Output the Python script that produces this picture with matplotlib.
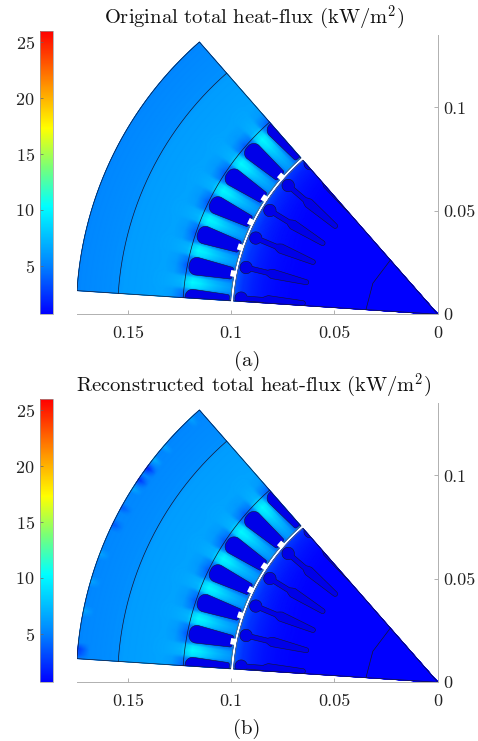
import numpy as np
import matplotlib
matplotlib.use('Agg')
import matplotlib.pyplot as plt
from matplotlib.colors import LinearSegmentedColormap, Normalize
from matplotlib.patches import Polygon
from matplotlib.cm import ScalarMappable

plt.rcParams['font.family'] = ['cmr10', 'DejaVu Serif']
plt.rcParams['mathtext.fontset'] = 'cm'
plt.rcParams['axes.formatter.use_mathtext'] = True
plt.rcParams['axes.unicode_minus'] = False

W, H = 478, 741

titles = ['Original total heat-flux (kW/m$^{2}$)', 'Reconstructed total heat-flux (kW/m$^{2}$)']
captions = ['(a)', '(b)']
x_ticks = [0.15, 0.1, 0.05, 0]
x_tick_labels = ['0.15', '0.1', '0.05', '0']
y_ticks = [0, 0.05, 0.1]
y_tick_labels = ['0', '0.05', '0.1']
cbar_ticks = [5, 10, 15, 20, 25]
cbar_min, cbar_max = 0.68, 26.0

# colour scale
cmap_values = [0.68, 5, 10.3, 13.8, 17.3, 21, 25, 26]
cmap_colors = ['#0000ff', '#0082ff', '#00ffff', '#78ff78', '#ffff00', '#ff9600', '#ff1e00', '#ff0000']

# machine geometry (m, deg)
sector_start, sector_end = 3.75, 48.75
r_outer, r_yoke, r_slot_top, r_stator, r_rotor, r_shaft = 0.175, 0.155, 0.1235, 0.1005, 0.099, 0.0348
shaft_angles = [3.75, 25.5, 48.75]
slot_angles = [3.75, 11.25, 18.75, 26.25, 33.75, 41.25, 48.75]
opening_angles = [11.25, 18.75, 26.25, 33.75, 41.25]
bar_angles = [4.7, 13.7, 22.7, 31.7, 40.7, 49.7]

# heat flux read along the stator: radius, tooth middle, behind slot middle
stator_r = [0.1005, 0.104, 0.108, 0.112, 0.116, 0.120, 0.1235, 0.1255, 0.129, 0.134, 0.142, 0.1545, 0.1555, 0.165, 0.175]
stator_tooth = [6.0, 6.6, 7.4, 8.4, 9.6, 10.2, 8.6, 7.2, 6.8, 6.5, 6.3, 6.1, 5.6, 5.4, 5.2]
stator_slot = [4.0, 4.0, 4.0, 4.0, 4.0, 4.0, 3.6, 4.6, 6.0, 6.4, 6.3, 6.1, 5.6, 5.4, 5.2]
phase_deg = [0, 1.8, 2.6, 3.75]
phase_weight = [0, 0.25, 0.85, 1]

# heat flux in the rotor
rotor_r = [0, 0.06, 0.07, 0.078, 0.085, 0.09, 0.095, 0.099]
rotor_flux = [0.68, 0.68, 0.7, 0.9, 1.25, 1.7, 2.4, 3.6]
rotor_scale_angle = [3.75, 20, 35, 48.75]
rotor_scale = [1.0, 1.0, 0.85, 0.7]

# blotches along the outer edge in the reconstruction
spot_angles = [3.75, 4.6, 5.4, 6.4, 10.5, 11.5, 12.5, 15.3, 16.3, 17.3, 19.9, 20.9, 21.9, 25, 26, 27, 28.2, 29, 29.8,
               31.7, 32.5, 33.2, 34.2, 35.3, 36.5, 37.4, 38.2, 39, 40, 40.8, 41.6, 46, 46.9, 47.8]
spot_delta = [0, -1.6, -2.2, 0, 0, 1.3, 0, 0, 1.2, 0, 0, 1.2, 0, 0, -1.4, 0, 0, -1.3, 0,
              0, 1.4, 0, -2.6, 0, -3.0, 0, 1.8, 0, 0, 1.3, 0, 0, 1.2, 0]

fill_blue = '#0000e8'
edge = '#16162e'
axis_gray = '#b0b0b0'


def px_axes(fig, left, top, right, bottom):
    return fig.add_axes([left / W, 1 - bottom / H, (right - left) / W, (bottom - top) / H])


def polar(r, deg):
    t = np.radians(deg)
    return r * np.cos(t), r * np.sin(t)


def place(u, v, deg):
    # local radial/perpendicular coords to x, y
    t = np.radians(deg)
    return np.column_stack([u * np.cos(t) - v * np.sin(t), u * np.sin(t) + v * np.cos(t)])


def arc_pts(cu, cv, rad, a0, a1, n=14):
    a = np.radians(np.linspace(a0, a1, n))
    return cu + rad * np.cos(a), cv + rad * np.sin(a)


def slot_outline(deg):
    r0, r1 = 0.1012, 0.1226
    h0, h1 = 0.0029, 0.0043
    c0, c1 = 0.0010, 0.0036
    # walk the perimeter: inner-low, outer-low, outer-high, inner-high
    u1, v1 = arc_pts(r0 + c0, -(h0 - c0), c0, -180, -90)
    u2, v2 = arc_pts(r1 - c1, -(h1 - c1), c1, -90, 0)
    u3, v3 = arc_pts(r1 - c1, h1 - c1, c1, 0, 90)
    u4, v4 = arc_pts(r0 + c0, h0 - c0, c0, 90, 180)
    return place(np.r_[u1, u2, u3, u4], np.r_[v1, v2, v3, v4], deg)


def bar_outline(deg):
    head_r, head_c = 0.0030, 0.0955
    neck = 0.0012
    start = np.degrees(np.arcsin(neck / head_r))
    side_u = np.array([0.0915, 0.0850, 0.0838, 0.0825, 0.0700, 0.0655])
    side_v = np.array([0.0012, 0.0012, 0.0018, 0.0023, 0.0015, 0.0012])
    # head arc runs from the lower side round the far end to the upper side
    hu, hv = arc_pts(head_c, 0, head_r, -(180 - start), 180 - start, 40)
    tu, tv = arc_pts(0.0655, 0, 0.0012, 90, 270, 10)
    u = np.r_[side_u[::-1], hu, side_u, tu]
    v = np.r_[-side_v[::-1], hv, side_v, tv]
    return place(u, v, deg)


def stator_field(r, th, recon):
    nearest = np.abs((th - 3.75 + 3.75) % 7.5 - 3.75)
    w = np.interp(nearest, phase_deg, phase_weight)
    z = np.interp(r, stator_r, stator_slot) * (1 - w) + np.interp(r, stator_r, stator_tooth) * w
    if recon:
        z = z + np.interp(th, spot_angles, spot_delta) * np.interp(r, [0.1695, 0.174], [0, 1])
    return z


def rotor_field(r, th):
    return np.interp(r, rotor_r, rotor_flux) * np.interp(th, rotor_scale_angle, rotor_scale)


def draw_panel(fig, row, cmap, norm):
    off = row * 368
    ax = px_axes(fig, 77.3, 35 + off, 437.7, 314.3 + off)
    ax.set_xlim(0.1745, 0)
    ax.set_ylim(0, 0.135)
    ax.patch.set_alpha(0)

    th = np.linspace(sector_start, sector_end, 541)
    for r_lo, r_hi, kind in [(r_stator, r_outer, 's'), (0.0, r_rotor, 'r')]:
        rr, tt = np.meshgrid(np.linspace(r_lo, r_hi, 300), th)
        z = stator_field(rr, tt, row == 1) if kind == 's' else rotor_field(rr, tt)
        xx, yy = polar(rr, tt)
        ax.pcolormesh(xx, yy, z, cmap=cmap, norm=norm, shading='gouraud', rasterized=True)

    clip_x, clip_y = polar(np.r_[0, np.full(th.size, r_outer)], np.r_[0, th])
    clip = Polygon(np.column_stack([clip_x, clip_y]), transform=ax.transData, fill=False, lw=0)
    ax.add_patch(clip)

    for a in slot_angles:
        p = Polygon(slot_outline(a), closed=True, fc=fill_blue, ec=edge, lw=0.4, zorder=3)
        ax.add_patch(p)
        p.set_clip_path(clip)
    for a in bar_angles:
        p = Polygon(bar_outline(a), closed=True, fc=fill_blue, ec=edge, lw=0.4, zorder=3)
        ax.add_patch(p)
        p.set_clip_path(clip)

    # region borders
    for r_line, c, lw in [(r_outer, edge, 0.5), (r_yoke, edge, 0.5), (r_slot_top, edge, 0.5),
                          (r_stator, '#666666', 0.5), (r_rotor, '#666666', 0.5)]:
        lx, ly = polar(r_line, th)
        ax.plot(lx, ly, color=c, lw=lw, zorder=5)
    for a in [sector_start, sector_end]:
        for r_a, r_b in [(0, r_rotor), (r_stator, r_outer)]:
            lx, ly = polar(np.array([r_a, r_b]), a)
            ax.plot(lx, ly, color=edge, lw=0.5, zorder=5)
    sx, sy = polar(np.full(len(shaft_angles), r_shaft), np.array(shaft_angles))
    ax.plot(sx, sy, color=edge, lw=0.5, zorder=5)

    # slot openings merge with the white air gap
    for a in opening_angles:
        aa = np.linspace(a - 0.85, a + 0.85, 6)
        ox, oy = polar(np.r_[np.full(6, 0.0996), np.full(6, 0.1022)], np.r_[aa, aa[::-1]])
        ax.fill(ox, oy, color='white', lw=0, zorder=6)

    ax.xaxis.tick_bottom()
    ax.yaxis.tick_right()
    ax.set_xticks(x_ticks, x_tick_labels)
    ax.set_yticks(y_ticks, y_tick_labels)
    ax.tick_params(axis='both', direction='in', length=3, width=0.7, color=axis_gray,
                   labelsize=13, labelcolor='#222222')
    ax.tick_params(axis='x', pad=8)
    ax.tick_params(axis='y', pad=4)
    for s in ['top', 'left']:
        ax.spines[s].set_visible(False)
    for s in ['bottom', 'right']:
        ax.spines[s].set_color(axis_gray)
        ax.spines[s].set_linewidth(0.7)

    cax = px_axes(fig, 40.3, 31 + off, 52.7, 314 + off)
    cb = fig.colorbar(ScalarMappable(norm=norm, cmap=cmap), cax=cax)
    cb.set_ticks(cbar_ticks)
    cax.yaxis.tick_left()
    cax.tick_params(direction='in', length=2, width=0.5, color='#666666', labelsize=13,
                    labelcolor='#222222', pad=4)
    cb.outline.set_edgecolor('#999999')
    cb.outline.set_linewidth(0.5)

    fig.text(254 / W, 1 - (18 + off) / H, titles[row], ha='center', va='center', fontsize=14.8, color='#111111')
    fig.text(247 / W, 1 - (361 + off) / H, captions[row], ha='center', va='center', fontsize=14.8, color='#111111')


def main():
    fig = plt.figure(figsize=(W / 100, H / 100), dpi=100)
    norm = Normalize(cbar_min, cbar_max)
    stops = [(v - cbar_min) / (cbar_max - cbar_min) for v in cmap_values]
    cmap = LinearSegmentedColormap.from_list('flux', list(zip(stops, cmap_colors)), N=512)
    draw_panel(fig, 0, cmap, norm)
    draw_panel(fig, 1, cmap, norm)
    fig.savefig('out.png', dpi=100)


if __name__ == '__main__':
    main()
